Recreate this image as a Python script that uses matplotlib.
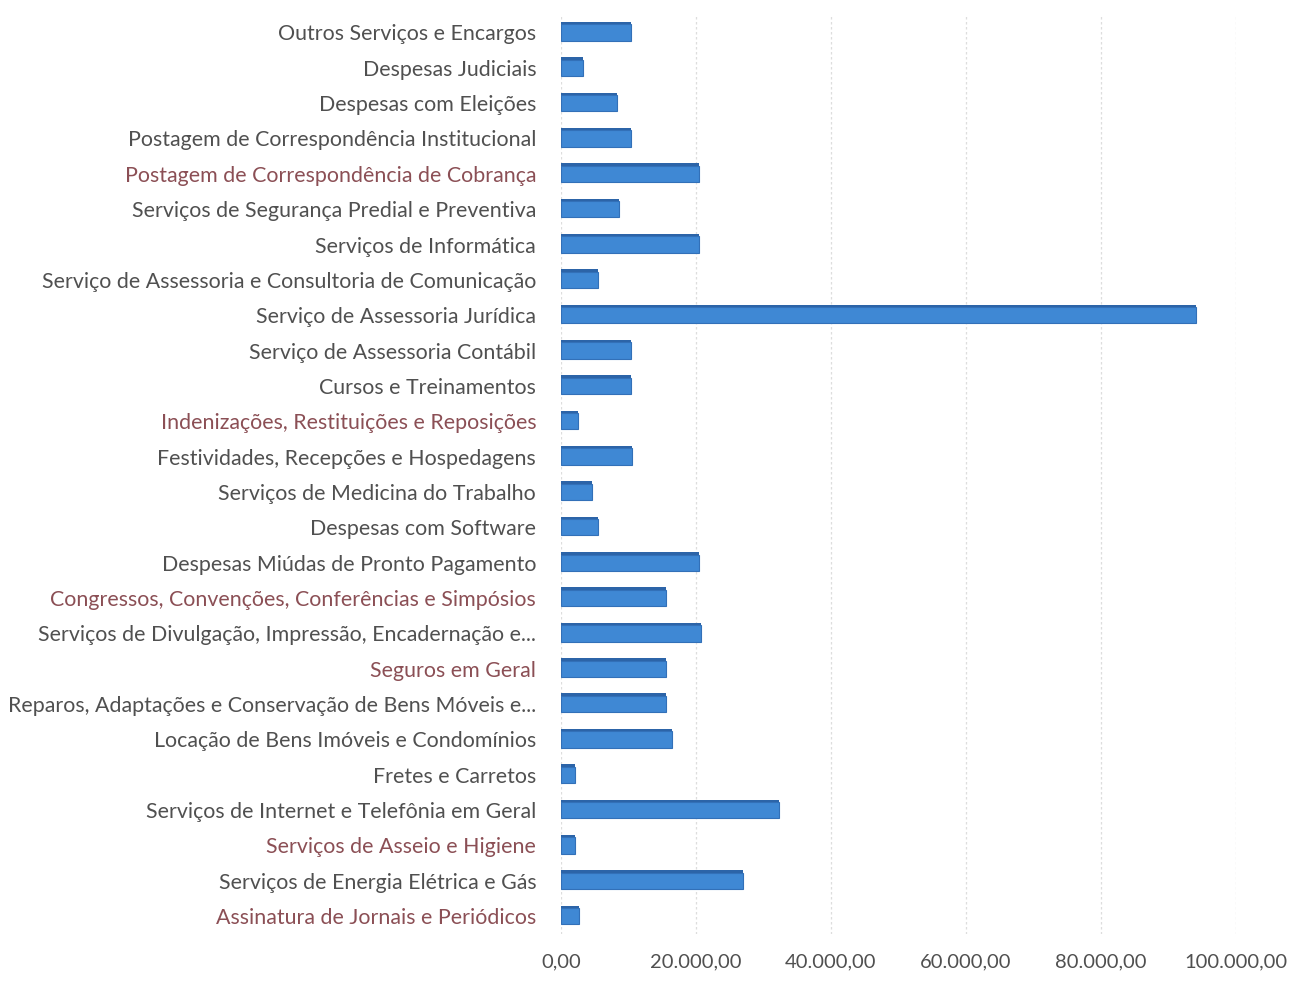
import numpy as np
import matplotlib
matplotlib.use("Agg")
import matplotlib.pyplot as plt
from matplotlib.ticker import FuncFormatter

categories = [
    "Outros Serviços e Encargos",
    "Despesas Judiciais",
    "Despesas com Eleições",
    "Postagem de Correspondência Institucional",
    "Postagem de Correspondência de Cobrança",
    "Serviços de Segurança Predial e Preventiva",
    "Serviços de Informática",
    "Serviço de Assessoria e Consultoria de Comunicação",
    "Serviço de Assessoria Jurídica",
    "Serviço de Assessoria Contábil",
    "Cursos e Treinamentos",
    "Indenizações, Restituições e Reposições",
    "Festividades, Recepções e Hospedagens",
    "Serviços de Medicina do Trabalho",
    "Despesas com Software",
    "Despesas Miúdas de Pronto Pagamento",
    "Congressos, Convenções, Conferências e Simpósios",
    "Serviços de Divulgação, Impressão, Encadernação e...",
    "Seguros em Geral",
    "Reparos, Adaptações e Conservação de Bens Móveis e...",
    "Locação de Bens Imóveis e Condomínios",
    "Fretes e Carretos",
    "Serviços de Internet e Telefônia em Geral",
    "Serviços de Asseio e Higiene",
    "Serviços de Energia Elétrica e Gás",
    "Assinatura de Jornais e Periódicos",
]
values = [
    10400, 3300, 8300, 10400, 20500, 8600, 20400, 5400, 94100, 10400,
    10400, 2500, 10500, 4500, 5500, 20500, 15500, 20700, 15500, 15500,
    16400, 2000, 32300, 2100, 27000, 2700,
]
# labels that came out reddish in the scan
reddish = {
    "Postagem de Correspondência de Cobrança",
    "Indenizações, Restituições e Reposições",
    "Congressos, Convenções, Conferências e Simpósios",
    "Seguros em Geral",
    "Serviços de Asseio e Higiene",
    "Assinatura de Jornais e Periódicos",
}
xticks = [0, 20000, 40000, 60000, 80000, 100000]


def br_fmt(v, pos=None):
    s = f"{v:,.2f}"
    return s.replace(",", "X").replace(".", ",").replace("X", ".")


plt.rcParams["font.family"] = ["Lato", "DejaVu Sans"]

fig = plt.figure(figsize=(13.02, 9.83), dpi=100)
ax = fig.add_axes([0.431, 0.05, 0.518, 0.935])

y = np.arange(len(categories))
# depth face (3D look), then front face
ax.barh(y - 0.07, values, height=0.46, color="#2c64a8", zorder=2)
ax.barh(y, values, height=0.46, color="#3f88d4", edgecolor="#3270b8",
        linewidth=0.8, zorder=3)

ax.set_xlim(0, 100000)
ax.set_ylim(len(categories) - 0.5, -0.5)
ax.set_xticks(xticks)
ax.xaxis.set_major_formatter(FuncFormatter(br_fmt))
ax.set_yticks(y)
ax.set_yticklabels(categories)
for lbl in ax.get_yticklabels():
    lbl.set_color("#8b4f55" if lbl.get_text() in reddish else "#505050")
    lbl.set_fontsize(15.4)
for lbl in ax.get_xticklabels():
    lbl.set_color("#505050")
    lbl.set_fontsize(14.5)

ax.tick_params(axis="both", length=0)
ax.tick_params(axis="y", pad=18)
ax.tick_params(axis="x", pad=14)
ax.grid(axis="x", color="#dddddd", linestyle=(0, (2, 2)), linewidth=0.9, zorder=0)
for s in ax.spines.values():
    s.set_visible(False)

fig.savefig("out.png", dpi=100)
